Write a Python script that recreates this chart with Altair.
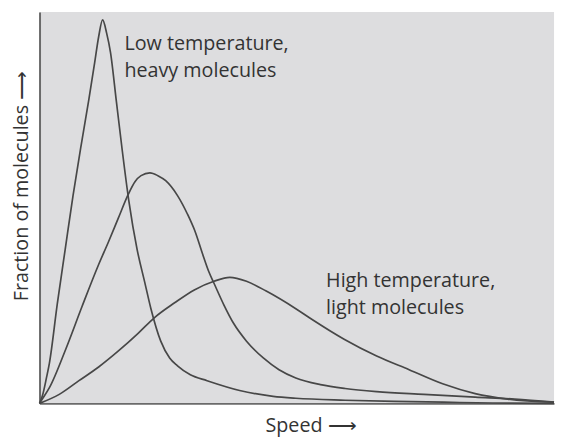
import altair as alt
import pandas as pd

# Low temperature, heavy molecules
low_x = [0, 0.57, 1.34, 1.92, 3.45, 4.98, 6.51, 8.05, 9.58, 10.73, 11.49, 12.26, 13.03, 13.79,
         14.94, 16.09, 17.34, 18.97, 20.44, 21.65, 23.56, 25.29, 26.82, 29.31, 32.57, 38.89,
         45.40, 49.81, 59.39, 68.97, 78.54, 88.12, 100]
low_y = [0, 2.0, 6.5, 10.3, 25.4, 39.3, 53.1, 65.7, 77.6, 87.2, 93.7, 98.0, 94.7, 89.7,
         77.1, 64.5, 51.9, 39.3, 31.0, 24.2, 15.9, 11.6, 9.6, 7.3, 5.8, 3.3,
         1.8, 1.3, 0.8, 0.5, 0.3, 0.1, 0]

# Intermediate curve
mid_x = [0, 0.38, 1.92, 5.17, 8.24, 11.49, 13.41, 15.33, 17.24, 18.58, 19.73, 21.46, 23.00,
         24.52, 26.82, 28.74, 30.27, 31.61, 32.95, 33.91, 35.82, 37.74, 40.23, 43.49, 46.55,
         49.81, 54.60, 59.39, 65.52, 74.71, 84.67, 92.34, 100]
mid_y = [0, 0.8, 4.0, 14.1, 24.7, 35.5, 41.3, 47.4, 53.4, 56.7, 58.2, 58.9, 58.2,
         56.9, 53.1, 48.4, 43.8, 38.5, 33.5, 30.7, 25.2, 20.4, 15.9, 11.6, 8.6,
         6.5, 4.8, 3.8, 3.0, 2.3, 1.6, 1.1, 0.3]

# High temperature, light molecules
high_x = [0, 3.83, 7.66, 11.49, 15.33, 19.16, 22.41, 26.25, 30.08, 33.91, 36.97, 40.23, 44.06,
          49.81, 52.68, 59.20, 65.52, 71.84, 78.35, 84.67, 91.00, 100]
high_y = [0, 2.3, 5.8, 9.3, 13.4, 17.9, 22.0, 25.7, 29.0, 31.2, 32.2, 31.2, 28.7,
          24.2, 21.7, 16.4, 12.1, 8.6, 5.0, 2.5, 1.1, 0.3]

series_names = ["low", "mid", "high"]

labels_text = ["Low temperature,\nheavy molecules", "High temperature,\nlight molecules"]
labels_x = [16.5, 55.7]
labels_y = [90.3, 29.7]

rows = []
for name, xs, ys in zip(series_names, [low_x, mid_x, high_x], [low_y, mid_y, high_y]):
    for xv, yv in zip(xs, ys):
        rows.append({"series": name, "speed": xv, "fraction": yv})
df = pd.DataFrame(rows)
lab = pd.DataFrame({"text": labels_text, "speed": labels_x, "fraction": labels_y})

FONT = "Open Sans"
TXT = "#333333"

xscale = alt.Scale(domain=[0, 100], nice=False, zero=True)
yscale = alt.Scale(domain=[0, 100], nice=False, zero=True)

lines = alt.Chart(df).mark_line(
    interpolate="monotone", color="#474747", strokeWidth=1.7
).encode(
    x=alt.X("speed:Q", scale=xscale, axis=alt.Axis(
        title="Speed ⟶", labels=False, ticks=False, grid=False,
        domainColor="#6a6a6a", domainWidth=2,
        titleFont=FONT, titleFontSize=20, titleFontWeight="normal", titleColor=TXT,
        titleX=275, titleY=29, titleAlign="center", titleBaseline="alphabetic")),
    y=alt.Y("fraction:Q", scale=yscale, axis=alt.Axis(
        title="Fraction of molecules ⟶", labels=False, ticks=False, grid=False,
        domainColor="#6a6a6a", domainWidth=2,
        titleFont=FONT, titleFontSize=20, titleFontWeight="normal", titleColor=TXT,
        titleAngle=270, titleX=-12, titleY=176, titleAlign="center",
        titleBaseline="alphabetic")),
    detail="series:N",
)

texts = alt.Chart(lab).mark_text(
    align="left", baseline="alphabetic", font=FONT, fontSize=20, color=TXT,
    lineBreak="\n", lineHeight=27
).encode(
    x=alt.X("speed:Q", scale=xscale),
    y=alt.Y("fraction:Q", scale=yscale),
    text="text:N",
)

chart = alt.layer(lines, texts).properties(
    width=522, height=397,
    autosize=alt.AutoSizeParams(type="none"),
    padding={"left": 32, "top": 1, "right": 2, "bottom": 33},
    background="white",
).configure_view(
    stroke=None, fill="#dddddf"
)

chart.save("out.html", embed_options={"renderer": "svg", "actions": False})
